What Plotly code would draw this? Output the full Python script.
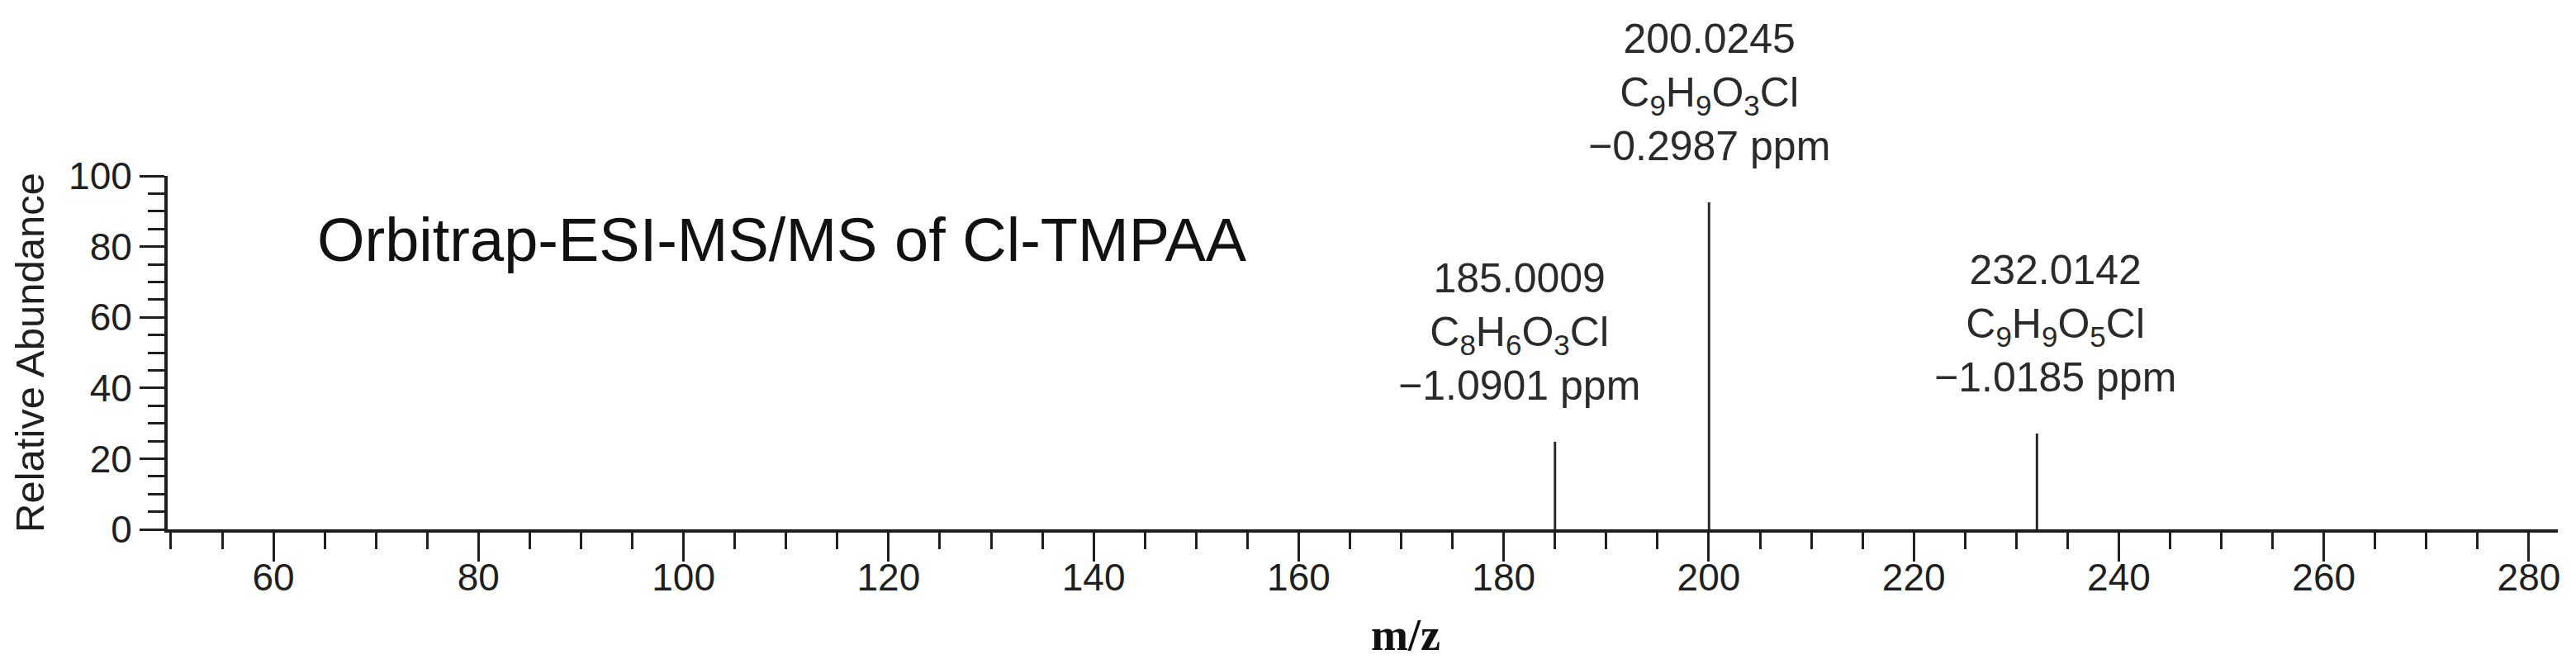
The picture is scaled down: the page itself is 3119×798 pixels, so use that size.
import plotly.graph_objects as go

# peak data
peak_mz = [185.0009, 200.0245, 232.0142]
peak_abundance = [24.8, 92.5, 27.1]
peak_formula = ['C<sub>8</sub>H<sub>6</sub>O<sub>3</sub>Cl',
                'C<sub>9</sub>H<sub>9</sub>O<sub>3</sub>Cl',
                'C<sub>9</sub>H<sub>9</sub>O<sub>5</sub>Cl']
peak_ppm = ['\u22121.0901', '\u22120.2987', '\u22121.0185']

x_ticks = [60, 80, 100, 120, 140, 160, 180, 200, 220, 240, 260, 280]
y_ticks = [0, 20, 40, 60, 80, 100]

SANS = 'Liberation Sans, Arial, sans-serif'
INK = '#1f1f1f'

# stick spectrum: one vertical segment per peak, separated by None
xs, ys = [], []
for mz, ab in zip(peak_mz, peak_abundance):
    xs += [mz, mz, None]
    ys += [0, ab, None]

fig = go.Figure()
fig.add_trace(go.Scatter(x=xs, y=ys, mode='lines',
                         line=dict(color='#2a2a2a', width=3),
                         hoverinfo='skip', showlegend=False))

# peak labels (mass / formula / error)
label_xshift = [-43, 0, 22]
for mz, ab, f, ppm, dx in zip(peak_mz, peak_abundance, peak_formula, peak_ppm, label_xshift):
    fig.add_annotation(x=mz, y=ab, xref='x', yref='y',
                       text=f'{mz:.4f}<br>{f}<br>{ppm} ppm',
                       showarrow=False, xanchor='center', yanchor='middle',
                       xshift=dx, yshift=133,
                       font=dict(family=SANS, size=50, color='#2a2a2a'))

fig.add_annotation(x=0.0619, y=0.820, xref='paper', yref='paper',
                   text='Orbitrap-ESI-MS/MS of Cl-TMPAA', showarrow=False,
                   xanchor='left', yanchor='middle',
                   font=dict(family=SANS, size=74, color='#111111'))

fig.add_annotation(x=0.518, y=-0.30, xref='paper', yref='paper',
                   text='<b>m/z</b>', showarrow=False,
                   xanchor='center', yanchor='middle',
                   font=dict(family='Liberation Serif, Times New Roman, serif', size=54, color='#111111'))

fig.update_xaxes(range=[49.68, 282.82], tickvals=x_ticks,
                 showline=True, linewidth=4, linecolor=INK,
                 ticks='outside', ticklen=35, tickwidth=3, tickcolor=INK,
                 minor=dict(dtick=5, tick0=0, ticks='outside', ticklen=20, tickwidth=3, tickcolor=INK),
                 showgrid=False, zeroline=False, ticklabelstandoff=-20,
                 tickfont=dict(family=SANS, size=46, color=INK))
fig.update_yaxes(range=[0, 100], tickvals=y_ticks,
                 showline=True, linewidth=4, linecolor=INK,
                 ticks='outside', ticklen=30, tickwidth=3, tickcolor=INK,
                 minor=dict(dtick=5, tick0=0, ticks='outside', ticklen=20, tickwidth=3, tickcolor=INK),
                 showgrid=False, zeroline=False,
                 tickfont=dict(family=SANS, size=46, color=INK),
                 title=dict(text='Relative Abundance', standoff=15,
                            font=dict(family=SANS, size=49, color=INK)))

fig.update_layout(width=3119, height=798,
                  margin=dict(l=195, r=30, t=205, b=165),
                  plot_bgcolor='white', paper_bgcolor='white')

fig.write_html('out.html')
